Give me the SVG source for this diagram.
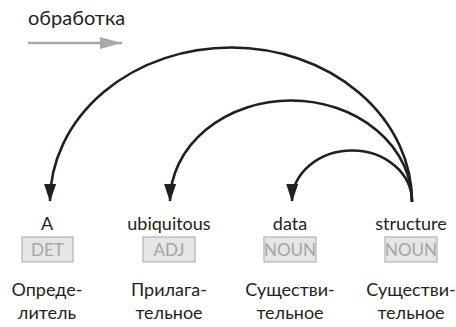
<svg xmlns="http://www.w3.org/2000/svg" width="456" height="327" viewBox="0 0 456 327">
  <defs>
    <style>
      .word { font-family: "Lato", "Liberation Sans", sans-serif; font-size: 18px; fill: #231f20; text-anchor: middle; }
      .tag { font-family: "Lato", "Liberation Sans", sans-serif; font-size: 17px; fill: #a5a5a8; text-anchor: middle; }
      .tagbox { fill: #e6e6e7; stroke: #b3b3b5; stroke-width: 1.2; }
      .arc { fill: none; stroke: #231f20; stroke-width: 2.6; marker-end: url(#head); }
    </style>
    <marker id="head" viewBox="0 0 18 12" refX="17" refY="6" markerWidth="18" markerHeight="12" markerUnits="userSpaceOnUse" orient="auto">
      <path d="M0,0 L18,6 L0,12 Z" fill="#231f20"/>
    </marker>
    <marker id="grayhead" viewBox="0 0 22 12" refX="22" refY="6" markerWidth="22" markerHeight="12" markerUnits="userSpaceOnUse" orient="auto">
      <path d="M0,0 L22,6 L0,12 Z" fill="#a7a9ac"/>
    </marker>
  </defs>

  <!-- processing direction -->
  <g id="direction">
    <text x="28" y="25" class="word" style="text-anchor:start;font-size:20px">обработка</text>
    <line x1="28" y1="43" x2="122" y2="43" stroke="#a7a9ac" stroke-width="2.5" marker-end="url(#grayhead)"/>
  </g>

  <!-- dependency arcs from the head word -->
  <g id="connectors">
    <path class="arc" d="M412,202 A181,154 0 0 0 50,201"/>
    <path class="arc" d="M412,202 A121,101 0 0 0 170,201"/>
    <path class="arc" d="M412,202 A60,51 0 0 0 292,201"/>
  </g>

  <g id="token-a">
    <text x="47" y="230" class="word">A</text>
    <rect x="22" y="237" width="51" height="25" class="tagbox"/>
    <text x="47.5" y="256" class="tag">DET</text>
    <text x="47" y="296" class="word">Опреде-</text>
    <text x="47" y="319" class="word">литель</text>
  </g>

  <g id="token-ubiquitous">
    <text x="169" y="230" class="word">ubiquitous</text>
    <rect x="143" y="237" width="52" height="25" class="tagbox"/>
    <text x="169" y="256" class="tag">ADJ</text>
    <text x="169" y="296" class="word">Прилага-</text>
    <text x="169" y="319" class="word">тельное</text>
  </g>

  <g id="token-data">
    <text x="290" y="230" class="word">data</text>
    <rect x="264" y="237" width="52" height="25" class="tagbox"/>
    <text x="290" y="256" class="tag">NOUN</text>
    <text x="290" y="296" class="word">Существи-</text>
    <text x="290" y="319" class="word">тельное</text>
  </g>

  <g id="token-structure">
    <text x="411" y="230" class="word">structure</text>
    <rect x="385" y="237" width="52" height="25" class="tagbox"/>
    <text x="411" y="256" class="tag">NOUN</text>
    <text x="411" y="296" class="word">Существи-</text>
    <text x="411" y="319" class="word">тельное</text>
  </g>
</svg>
